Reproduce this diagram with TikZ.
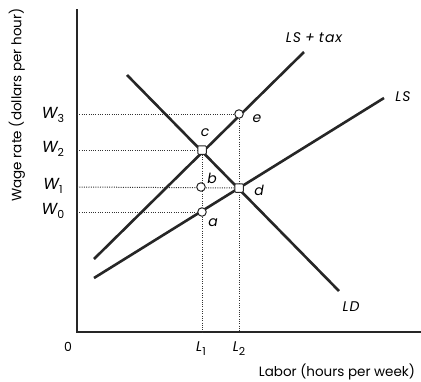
\documentclass[tikz,border=0pt]{standalone}
\usepackage{fontspec}
\setmainfont{Poppins}
\newcommand{\mysub}[1]{\raisebox{-0.3em}{\fontsize{11}{11}\selectfont\upshape #1}}
\begin{document}
\begin{tikzpicture}[x=1pt,y=-1pt,
  curve/.style={line width=2.6pt,draw=black!85},
  axis/.style={line width=1.4pt,draw=black!85},
  guide/.style={line width=1pt,dash pattern=on 1pt off 1.3pt,draw=black!80},
  ptc/.style={circle,draw=black!85,fill=white,line width=1pt,inner sep=0pt,minimum size=8.5pt},
  pts/.style={rectangle,rounded corners=1pt,draw=black!85,fill=white,line width=1pt,inner sep=0pt,minimum size=8.5pt},
  lab/.style={font=\itshape\fontsize{14}{14}\selectfont,inner sep=0pt},
  wlab/.style={font=\itshape\fontsize{16}{16}\selectfont,inner sep=0pt},
  txt/.style={font=\fontsize{13.5}{13.5}\selectfont,inner sep=0pt}]
\useasboundingbox (0,0) rectangle (421,381);
% axes
\coordinate (top) at (77,9);
\coordinate (org) at (77,332);
\coordinate (xend) at (421,332);
\draw[axis] (top) -- (org) -- (xend);
% key points
\coordinate (c) at (202,150);
\coordinate (e) at (239,114);
\coordinate (d) at (239,188);
\coordinate (b) at (201,187);
\coordinate (a) at (202,212);
% axis coordinates
\coordinate (w3) at (77,114);
\coordinate (w2) at (77,150);
\coordinate (w1) at (77,187);
\coordinate (w0) at (77,212);
\coordinate (l1) at (202,332);
\coordinate (l2) at (239,332);
% dotted guides
\draw[guide] (w3) -- (e);
\draw[guide] (w2) -- (c);
\draw[guide] (w1) -- (d);
\draw[guide] (w0) -- (a);
\draw[guide] (c) -- (l1);
\draw[guide] (e) -- (l2);
% curves
\coordinate (ld1) at (127,75);
\coordinate (ld2) at (339,291);
\coordinate (lt1) at (94,259);
\coordinate (lt2) at (304,52);
\coordinate (ls1) at (94,278);
\coordinate (ls2) at (384,98);
\draw[curve] (ld1) -- (ld2);
\draw[curve] (lt1) -- (lt2);
\draw[curve] (ls1) -- (ls2);
% markers
\node[pts] (nc) at (c) {};
\node[pts] (nd) at (d) {};
\node[ptc] (ne) at (e) {};
\node[ptc] (nb) at (b) {};
\node[ptc] (na) at (a) {};
% point labels
\node[lab] (tc) at (205,133) {c};
\node[lab] (te) at (257,119) {e};
\node[lab] (tb) at (212,178) {b};
\node[lab] (td) at (259,190) {d};
\node[lab] (ta) at (213,223) {a};
% curve labels
\node[lab] (tlt) at (314,38) {L\kern1pt S + t\kern1pt a\kern1pt x};
\node[lab] (tls) at (403,97) {L\kern1pt S};
\node[lab] (tld) at (351,307) {L\kern1pt D};
% axis labels
\node[wlab] (tw3) at (53,115) {W\mysub{3}};
\node[wlab] (tw2) at (53,149) {W\mysub{2}};
\node[wlab] (tw1) at (53,186) {W\mysub{1}};
\node[wlab] (tw0) at (53,211) {W\mysub{0}};
\node[txt,font=\fontsize{12.5}{12.5}\selectfont] (t0) at (68,347) {0};
\node[lab] (tl1) at (201,349) {L\mysub{1}};
\node[lab] (tl2) at (239,349) {L\mysub{2}};
\node[txt] (tx) at (337,372) {Labor (hours per week)};
\node[txt,rotate=90] (ty) at (17,105) {Wage rate (dollars per hour)};
\end{tikzpicture}
\end{document}
